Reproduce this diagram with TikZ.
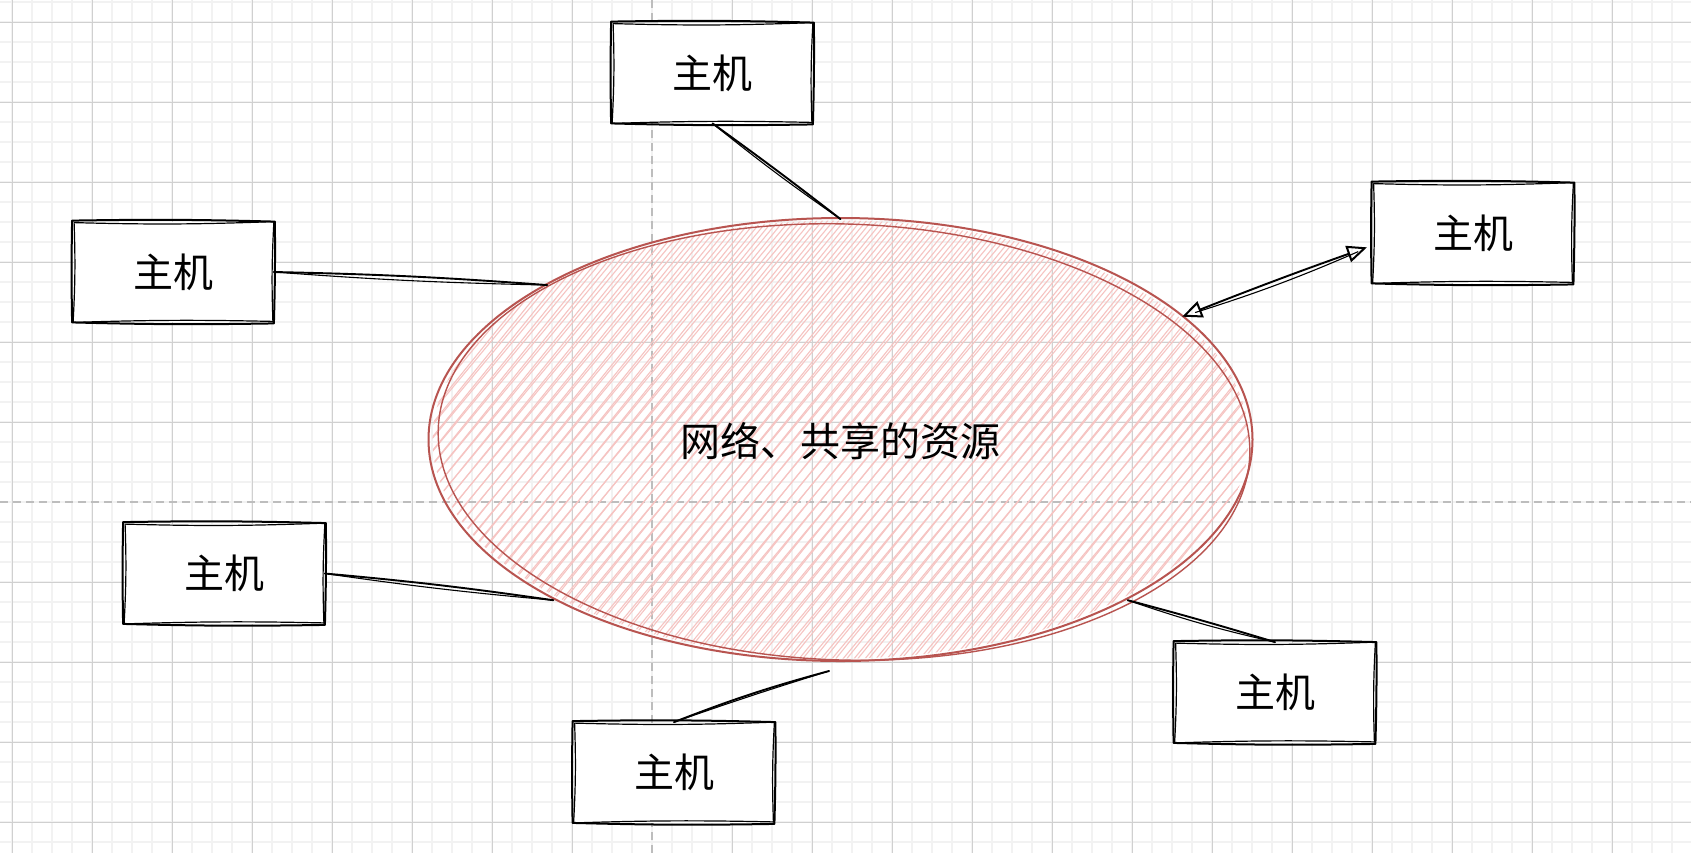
\documentclass[tikz,border=0pt]{standalone}
\usepackage{fontspec}
\setmainfont{Noto Sans CJK SC}
\usetikzlibrary{shapes.geometric,arrows.meta,calc}

\definecolor{gridminor}{HTML}{F2F2F2}
\definecolor{gridmajor}{HTML}{D0D0D0}
\definecolor{guide}{HTML}{BDBDBD}
\definecolor{resstroke}{HTML}{B85450}
\definecolor{reshatch}{HTML}{F6C4C2}

\tikzset{
  host/.style={rectangle, minimum width=100pt, minimum height=50pt, inner sep=0pt,
    fill=white, font=\fontsize{20pt}{24pt}\selectfont},
  rough/.style={draw=black, line width=1pt, line join=round, line cap=round},
  roughthin/.style={draw=black, line width=0.6pt, line join=round, line cap=round},
  conn/.style={draw=black, line width=0.95pt, line cap=round},
  connthin/.style={draw=black, line width=0.55pt, line cap=round},
  resline/.style={draw=resstroke, line width=1pt},
  reslinethin/.style={draw=resstroke, line width=0.7pt},
  hatch/.style={draw=reshatch, line width=0.55pt},
  bothopen/.style={arrows={{Triangle[open, length=10pt, width=8.5pt, line width=1pt]}-{Triangle[open, length=10pt, width=8.5pt, line width=1pt]}}},
}

% hand-drawn looking outline around a node
\newcommand\roughbox[1]{%
  \draw[rough] ([shift={(-1,-1)}]#1.north west) to[bend left=1.2] ([shift={(1,0)}]#1.north east)
    to[bend left=1] ([shift={(0,1)}]#1.south east) to[bend left=1.2] ([shift={(-1,0)}]#1.south west)
    to[bend left=1] ([shift={(-1,-1)}]#1.north west);
  \draw[roughthin] ([shift={(1,1)}]#1.north west) to[bend right=1.8] (#1.north east)
    to[bend right=2.5] ([shift={(-1,-1)}]#1.south east) to[bend right=1.5] (#1.south west)
    to[bend right=2.5] ([shift={(1,1)}]#1.north west);
}

\begin{document}
\begin{tikzpicture}[x=0.5pt,y=-0.5pt]
\useasboundingbox (0,0) rectangle (1691,853);
\fill[white] (0,0) rectangle (1691,853);

% background grid
\foreach \x in {12,32,...,1690} \draw[gridminor, line width=0.8pt] (\x,0) -- (\x,853);
\foreach \y in {2,22,...,852} \draw[gridminor, line width=0.8pt] (0,\y) -- (1691,\y);
\foreach \x in {12,92,...,1690} {\ifnum\x=652\else \draw[gridmajor, line width=0.5pt] (\x,0) -- (\x,853);\fi}
\foreach \y in {22,102,...,852} {\ifnum\y=502\else \draw[gridmajor, line width=0.5pt] (0,\y) -- (1691,\y);\fi}
\draw[guide, line width=0.7pt, dash pattern=on 4pt off 2.5pt] (652,0) -- (652,853);
\draw[guide, line width=0.7pt, dash pattern=on 4pt off 2.5pt] (0,502) -- (1691,502);

% hatched fill of the shared resource
\begin{scope}
  \clip (840.5,439.5) ellipse [x radius=204pt, y radius=109.5pt];
  \foreach \x in {40,51,...,1260} \draw[hatch] (\x,672) -- ++(386,-464);
  \foreach \x in {44,55,...,1260} \draw[hatch] (\x,672) -- ++(376,-464);
\end{scope}
\draw[resline] (840.5,439.5) ellipse [x radius=206pt, y radius=110.75pt];
\draw[reslinethin, rotate around={-1.8:(844,442)}] (844,442) ellipse [x radius=203pt, y radius=109pt];

\node[ellipse, minimum width=412pt, minimum height=221.5pt, inner sep=0pt,
      font=\fontsize{20pt}{24pt}\selectfont] (res) at (840.5,441) {网络、共享的资源};

% hosts
\node[host] (h1) at (712.5,73) {主机};
\node[host] (h2) at (173.5,272) {主机};
\node[host] (h3) at (1473,233) {主机};
\node[host] (h4) at (224.5,573.5) {主机};
\node[host] (h5) at (674,772.5) {主机};
\node[host] (h6) at (1275,692.5) {主机};
\foreach \n in {h1,h2,h3,h4,h5,h6} {\roughbox{\n}}

% links
\coordinate (h5end) at (829,671);
\draw[conn] (h1.south) to[bend left=1] (res.90);
\draw[connthin] (h1.south) to[bend right=2] (res.90);
\draw[conn] (h2.east) to[bend left=1.5] (res.152);
\draw[connthin] (h2.east) to[bend right=1.5] (res.152);
\draw[conn, bothopen, shorten >=3pt] (res.20) to[bend left=1] (h3.187.5);
\draw[connthin, shorten >=8pt, shorten <=7pt] (res.20) to[bend right=3] (h3.187.5);
\draw[conn] (h4.east) to[bend left=1.5] (res.209);
\draw[connthin] (h4.east) to[bend right=1.5] (res.209);
\draw[conn] (h5.north) to[bend left=3] (h5end);
\draw[connthin] (h5.north) to[bend left=1] (h5end);
\draw[conn] (res.331.5) to[bend left=1] (h6.north);
\draw[connthin] (res.331.5) to[bend right=3] (h6.north);
\end{tikzpicture}
\end{document}
